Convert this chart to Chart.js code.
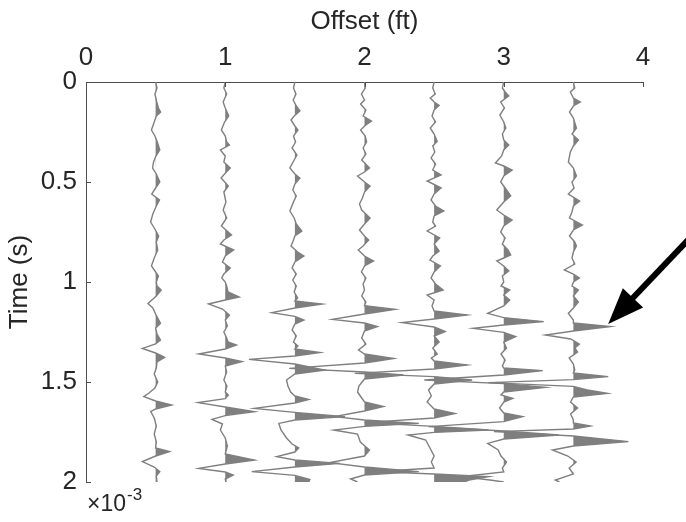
<!DOCTYPE html>
<html>
<head>
<meta charset="utf-8">
<script src="https://cdn.jsdelivr.net/npm/chart.js@4.4.1/dist/chart.umd.min.js"></script>
<style>
  html, body { margin: 0; padding: 0; background: #fff; }
  canvas { display: block; }
</style>
</head>
<body>
<canvas id="grafico" width="686" height="522"></canvas>
<script>
// Offsets of each receiver (ft) and the tick values of both axes
const offsets = [0.5, 1.0, 1.5, 2.0, 2.5, 3.0, 3.5];
const xTicks = [0, 1, 2, 3, 4];
const yTicks = [0, 0.5, 1, 1.5, 2];

// Each trace: [time (x10^-3 s), amplitude (ft of deflection)]
const tr05 = [[0,0],[0.03,0.01],[0.06,-0.005],[0.1,0.008],[0.13,0.02],[0.15,0.036],[0.17,0.005],[0.2,-0.01],[0.24,-0.03],[0.27,-0.005],[0.3,0.012],[0.34,0.03],[0.37,0.002],[0.4,-0.015],[0.43,-0.022],[0.46,0.005],[0.5,0.03],[0.53,0],[0.56,-0.028],[0.59,0.028],[0.62,0.005],[0.66,-0.02],[0.7,-0.036],[0.73,-0.01],[0.77,0.022],[0.8,0.005],[0.84,0.015],[0.88,-0.01],[0.92,-0.03],[0.95,0],[0.97,0.02],[1.0,0.005],
  [1.02,0.01],[1.04,0.04],[1.07,0.005],[1.107,-0.055],[1.13,-0.02],[1.16,0],[1.207,0.035],[1.23,0],[1.26,0.01],[1.29,0.035],[1.31,0],[1.332,-0.095],[1.355,0],[1.377,0.065],[1.4,0.01],[1.43,0.005],[1.46,-0.01],[1.5,0.015],[1.53,-0.005],[1.556,-0.05],[1.573,-0.085],[1.595,0],[1.615,0.115],[1.635,0],[1.648,-0.035],[1.68,-0.01],[1.72,0.005],[1.76,-0.01],[1.8,0.005],[1.83,0],[1.848,0.1],[1.87,0],[1.898,-0.095],[1.925,-0.01],[1.948,0.03],[1.97,0.005],[2.0,0.01]];

const tr10 = [[0,0],[0.03,-0.01],[0.06,0.01],[0.1,-0.015],[0.13,0],[0.17,0.025],[0.2,-0.005],[0.24,-0.028],[0.27,0],[0.3,0.01],[0.315,0.03],[0.34,-0.035],[0.37,0],[0.4,-0.01],[0.43,0.036],[0.46,-0.005],[0.48,-0.03],[0.52,0.022],[0.55,-0.01],[0.6,0.005],[0.64,-0.015],[0.68,0.01],[0.72,-0.028],[0.765,0.045],[0.79,-0.01],[0.81,-0.035],[0.84,0.06],[0.87,0],[0.9,-0.02],[0.93,0.036],[0.96,-0.01],[0.98,-0.025],[1.0,0],
  [1.02,0.01],[1.05,0.02],[1.075,0.1],[1.09,0],[1.11,-0.12],[1.135,-0.02],[1.165,0.03],[1.19,0],[1.22,0.015],[1.25,-0.01],[1.28,0.01],[1.3,0.02],[1.315,0.08],[1.335,0],[1.36,-0.19],[1.38,0],[1.398,0.12],[1.42,0],[1.45,0.01],[1.49,-0.01],[1.52,0.012],[1.55,0],[1.565,0.022],[1.583,0],[1.603,-0.195],[1.625,0],[1.648,0.21],[1.668,0],[1.687,-0.095],[1.71,-0.02],[1.74,-0.035],[1.78,0],[1.82,0.015],[1.86,0],[1.89,0.21],[1.91,0],[1.932,-0.19],[1.95,0],[1.965,0.057],[1.985,0],[2.0,0.005]];

const tr15 = [[0,0],[0.03,-0.01],[0.06,0.008],[0.09,-0.012],[0.12,0.01],[0.145,0.036],[0.17,-0.005],[0.19,-0.028],[0.22,0],[0.24,0.022],[0.27,-0.01],[0.3,0.005],[0.33,-0.02],[0.365,0.015],[0.39,-0.005],[0.43,-0.036],[0.46,0],[0.48,0.036],[0.51,0],[0.54,-0.015],[0.57,0.01],[0.6,-0.01],[0.645,-0.036],[0.68,-0.005],[0.71,0.01],[0.745,0.05],[0.77,0],[0.8,-0.015],[0.82,-0.028],[0.85,0.02],[0.87,0.065],[0.9,0],[0.93,-0.02],[0.96,0.01],[0.99,-0.015],[1.02,0.01],[1.05,-0.005],[1.08,0.02],
  [1.095,0],[1.11,0.195],[1.13,0],[1.153,-0.165],[1.172,0],[1.19,0.065],[1.21,0],[1.24,-0.02],[1.27,0.01],[1.3,-0.01],[1.32,0.022],[1.335,0],[1.353,0.18],[1.37,0],[1.387,-0.33],[1.41,0],[1.44,0.215],[1.46,0],[1.49,-0.06],[1.52,-0.05],[1.55,-0.03],[1.57,0],[1.587,0.1],[1.605,0],[1.632,-0.29],[1.652,0],[1.673,0.36],[1.69,0],[1.707,-0.115],[1.74,-0.1],[1.78,-0.06],[1.81,-0.02],[1.83,0.028],[1.85,0],[1.873,-0.13],[1.89,0],[1.907,0.323],[1.925,0],[1.948,-0.31],[1.967,0],[1.987,0.108],[2.0,0.1]];

const tr20 = [[0,0],[0.03,0.005],[0.06,-0.022],[0.09,0],[0.11,-0.028],[0.14,0.01],[0.17,-0.01],[0.195,0.05],[0.22,0],[0.24,-0.028],[0.27,0.005],[0.3,0.015],[0.33,-0.01],[0.36,0.01],[0.39,-0.02],[0.43,0.036],[0.45,0],[0.47,-0.05],[0.5,0],[0.52,0.04],[0.55,0],[0.58,-0.015],[0.61,-0.036],[0.64,-0.02],[0.68,0.04],[0.71,0],[0.74,-0.036],[0.77,0],[0.79,0.03],[0.82,-0.01],[0.84,-0.045],[0.87,0],[0.895,0.065],[0.92,0],[0.95,-0.022],[0.98,0.01],[1.01,-0.01],[1.04,0],[1.07,-0.02],[1.1,0.01],
  [1.118,0],[1.137,0.22],[1.16,0],[1.187,-0.23],[1.205,0],[1.223,0.093],[1.245,0],[1.28,-0.02],[1.31,0.01],[1.34,-0.043],[1.36,0],[1.382,0.21],[1.405,0],[1.432,-0.54],[1.45,0],[1.465,0.28],[1.485,0],[1.52,-0.04],[1.55,-0.05],[1.58,-0.02],[1.6,0],[1.623,0.136],[1.645,0],[1.673,-0.215],[1.69,0],[1.707,0.39],[1.722,0],[1.74,-0.22],[1.76,-0.05],[1.8,-0.03],[1.84,0.036],[1.87,0],[1.903,-0.25],[1.925,0],[1.948,0.39],[1.965,0],[1.985,-0.1],[2.0,-0.05]];

const tr25 = [[0,0],[0.03,-0.01],[0.06,0.008],[0.08,-0.028],[0.1,0],[0.117,0.036],[0.14,0],[0.17,-0.015],[0.2,0.01],[0.23,-0.028],[0.26,0],[0.297,0.022],[0.32,-0.01],[0.35,0.005],[0.38,-0.022],[0.41,0.01],[0.44,-0.01],[0.465,0.05],[0.495,-0.05],[0.53,0.05],[0.56,0],[0.59,-0.022],[0.62,0.01],[0.645,0.07],[0.67,0],[0.7,-0.01],[0.72,0.01],[0.745,-0.05],[0.78,0.04],[0.81,0],[0.845,0.036],[0.87,-0.01],[0.89,-0.03],[0.92,0.045],[0.95,0],[0.98,-0.022],[1.01,0.01],
  [1.04,0.065],[1.065,-0.05],[1.09,0],[1.12,-0.015],[1.145,0],[1.165,0.237],[1.185,0],[1.203,-0.23],[1.225,0],[1.248,0.08],[1.27,0],[1.3,0.036],[1.33,-0.01],[1.36,0.022],[1.38,-0.02],[1.395,0],[1.415,0.237],[1.435,0],[1.457,-0.57],[1.473,0],[1.49,0.273],[1.51,0],[1.54,-0.04],[1.57,-0.02],[1.6,-0.05],[1.635,0],[1.657,0.15],[1.68,0],[1.703,-0.5],[1.722,0],[1.74,0.39],[1.752,0],[1.765,-0.187],[1.79,-0.06],[1.83,-0.03],[1.87,0],[1.9,-0.02],[1.93,0],[1.948,-0.43],[1.96,0],[1.973,0.39],[1.99,0.25],[2.0,0.215]];

const tr30 = [[0,0],[0.03,-0.01],[0.05,0.01],[0.07,0.036],[0.1,-0.022],[0.13,0.005],[0.165,-0.028],[0.2,0],[0.23,0.015],[0.26,-0.01],[0.29,0],[0.315,0.036],[0.34,0],[0.37,-0.015],[0.405,-0.06],[0.42,0],[0.44,0.06],[0.47,0],[0.5,-0.022],[0.53,0.01],[0.57,0.05],[0.6,0],[0.64,-0.05],[0.665,0],[0.69,0.06],[0.72,0],[0.75,-0.022],[0.78,0.01],[0.81,-0.01],[0.84,0.03],[0.865,0.05],[0.88,0],[0.895,-0.05],[0.92,0],[0.945,0.036],[0.97,-0.01],[1.0,0],[1.02,-0.02],
  [1.04,0.043],[1.065,0],[1.09,0.043],[1.12,0],[1.157,-0.115],[1.178,0],[1.198,0.287],[1.215,0],[1.232,-0.22],[1.252,0],[1.273,0.086],[1.3,0],[1.33,0.02],[1.36,-0.02],[1.39,0.01],[1.42,-0.01],[1.43,0],[1.443,0.28],[1.465,0],[1.49,-0.57],[1.508,0],[1.527,0.3],[1.55,0],[1.565,-0.02],[1.582,0.065],[1.6,0],[1.63,-0.03],[1.655,0],[1.673,0.136],[1.698,0],[1.723,-0.54],[1.745,0],[1.765,0.395],[1.785,0],[1.807,-0.115],[1.84,-0.04],[1.87,-0.02],[1.9,0.02],[1.93,-0.01],[1.95,0],[1.973,-0.3],[1.99,-0.1],[2.0,0]];

const tr35 = [[0,0],[0.03,0.01],[0.05,-0.022],[0.08,0],[0.1,0.05],[0.12,0],[0.15,-0.028],[0.18,0],[0.23,0.022],[0.26,-0.01],[0.29,0.036],[0.32,0],[0.35,-0.022],[0.4,-0.036],[0.43,0],[0.47,0.022],[0.5,-0.01],[0.53,0.005],[0.56,-0.036],[0.595,0.045],[0.62,0],[0.65,-0.01],[0.68,-0.028],[0.715,0.065],[0.74,0],[0.77,-0.028],[0.8,0.01],[0.82,0.022],[0.85,0],[0.88,-0.01],[0.91,0.01],[0.94,-0.065],[0.96,0],[0.98,0.043],[1.0,0],[1.02,-0.01],
  [1.04,0.036],[1.07,0],[1.1,0.036],[1.13,0],[1.157,-0.036],[1.19,0],[1.205,0],[1.223,0.265],[1.245,0],[1.265,-0.2],[1.285,-0.02],[1.31,0.043],[1.33,0.01],[1.35,0.03],[1.38,-0.03],[1.41,0],[1.44,0.01],[1.455,0],[1.473,0.25],[1.488,0],[1.503,-0.61],[1.522,0],[1.54,0.1],[1.557,0.245],[1.575,0],[1.6,-0.02],[1.63,0.03],[1.66,-0.02],[1.69,0],[1.705,0],[1.72,0.122],[1.735,0],[1.748,-0.57],[1.77,0],[1.798,0.395],[1.82,0],[1.84,-0.15],[1.87,-0.04],[1.9,0.02],[1.93,-0.03],[1.96,0],[1.99,-0.13],[2.0,-0.1]];

const traces = [tr05, tr10, tr15, tr20, tr25, tr30, tr35];

const GRIS = '#7f7f7f';
const TEXTO = '#262626';
const EJE = '#4d4d4d';
const FUENTE = '"Liberation Sans", Arial, Helvetica, sans-serif';

function toPoints(trace, off) {
  return trace.map(([t, a]) => ({ x: off + a, y: t }));
}

// positive half of a trace, cut at the zero crossings, for the shaded lobes
function positiveLobes(trace, off) {
  const out = [];
  for (let i = 0; i < trace.length; i++) {
    const [t, a] = trace[i];
    if (i > 0) {
      const [t0, a0] = trace[i - 1];
      if ((a0 > 0 && a < 0) || (a0 < 0 && a > 0)) {
        out.push({ x: off, y: t0 + (t - t0) * a0 / (a0 - a) });
      }
    }
    out.push({ x: off + Math.max(a, 0), y: t });
  }
  return out;
}

const lineSets = traces.map((tr, i) => ({
  data: toPoints(tr, offsets[i]),
  borderColor: GRIS,
  borderWidth: 1.4,
  pointRadius: 0,
  fill: false,
  tension: 0
}));

const fillSets = traces.map((tr, i) => ({
  data: positiveLobes(tr, offsets[i]),
  borderColor: 'rgba(0,0,0,0)',
  borderWidth: 0,
  backgroundColor: GRIS,
  pointRadius: 0,
  fill: { value: offsets[i] },
  tension: 0
}));

// inward ticks, the x10^-3 exponent and the arrow
const extras = {
  id: 'extras',
  afterDraw(chart) {
    const { ctx, chartArea: a, scales: { x, y } } = chart;
    ctx.save();
    ctx.strokeStyle = EJE;
    ctx.lineWidth = 1;
    ctx.beginPath();
    xTicks.forEach(v => {
      const px = Math.round(x.getPixelForValue(v)) + 0.5;
      ctx.moveTo(px, a.top);
      ctx.lineTo(px, a.top + 5);
    });
    yTicks.forEach(v => {
      const py = Math.round(y.getPixelForValue(v)) + 0.5;
      ctx.moveTo(a.left, py);
      ctx.lineTo(a.left + 5, py);
    });
    ctx.stroke();

    ctx.fillStyle = TEXTO;
    ctx.textBaseline = 'alphabetic';
    ctx.textAlign = 'left';
    ctx.font = '23px ' + FUENTE;
    ctx.fillText('\u00d710', a.left + 1, a.bottom + 29);
    const w = ctx.measureText('\u00d710').width;
    ctx.font = '17px ' + FUENTE;
    ctx.fillText('-3', a.left + 2 + w, a.bottom + 18);

    // arrow pointing at the first arrival on the 3.5 ft trace
    const tip = { x: x.getPixelForValue(3.75), y: y.getPixelForValue(1.21) };
    const tail = { x: x.getPixelForValue(4.35), y: y.getPixelForValue(0.77) };
    const dx = tip.x - tail.x, dy = tip.y - tail.y;
    const len = Math.hypot(dx, dy);
    const ux = dx / len, uy = dy / len;
    const head = 36, half = 14;
    const bx = tip.x - ux * head, by = tip.y - uy * head;
    ctx.strokeStyle = '#000';
    ctx.fillStyle = '#000';
    ctx.lineWidth = 6;
    ctx.beginPath();
    ctx.moveTo(tail.x, tail.y);
    ctx.lineTo(bx + ux * 4, by + uy * 4);
    ctx.stroke();
    ctx.beginPath();
    ctx.moveTo(tip.x, tip.y);
    ctx.lineTo(bx - uy * half, by + ux * half);
    ctx.lineTo(bx + uy * half, by - ux * half);
    ctx.closePath();
    ctx.fill();
    ctx.restore();
  }
};

new Chart(document.getElementById('grafico'), {
  type: 'line',
  data: { datasets: lineSets.concat(fillSets) },
  options: {
    indexAxis: 'y',
    responsive: false,
    animation: false,
    devicePixelRatio: 1,
    layout: { padding: { left: 0, top: 0, right: 43, bottom: 40 } },
    plugins: { legend: { display: false }, tooltip: { enabled: false } },
    scales: {
      x: {
        type: 'linear',
        position: 'top',
        min: 0,
        max: 4,
        afterFit(s) { s.height = 82; },
        afterBuildTicks(s) { s.ticks = xTicks.map(v => ({ value: v })); },
        ticks: { font: { family: FUENTE, size: 26 }, color: TEXTO, padding: 9, maxRotation: 0, callback: v => String(v) },
        grid: { display: false, drawTicks: false },
        border: { display: true, color: EJE, width: 1 },
        title: { display: true, text: 'Offset (ft)', color: TEXTO, font: { family: FUENTE, size: 26 }, padding: { top: 6, bottom: 0 } }
      },
      y: {
        type: 'linear',
        reverse: true,
        min: 0,
        max: 2,
        afterFit(s) { s.width = 86; },
        afterBuildTicks(s) { s.ticks = yTicks.map(v => ({ value: v })); },
        ticks: { font: { family: FUENTE, size: 26 }, color: TEXTO, padding: 9, callback: v => String(v) },
        grid: { display: false, drawTicks: false },
        border: { display: true, color: EJE, width: 1 },
        title: { display: true, text: 'Time (s)', color: TEXTO, font: { family: FUENTE, size: 26 }, padding: { top: 4, bottom: 0 } }
      }
    }
  },
  plugins: [extras]
});
</script>
</body>
</html>
